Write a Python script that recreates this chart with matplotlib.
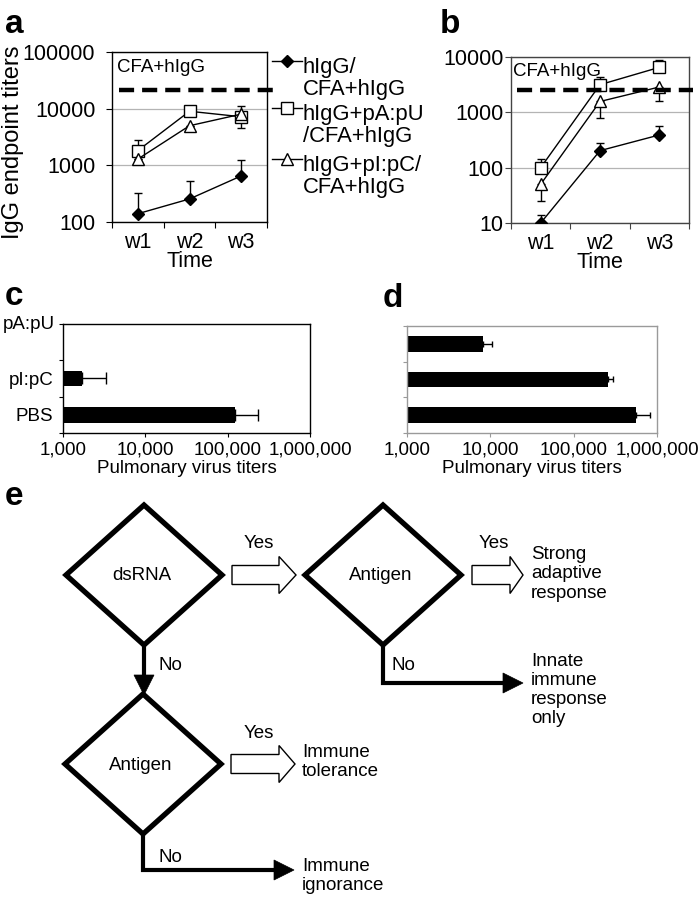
import numpy as np
import matplotlib
matplotlib.use('Agg')
import matplotlib.pyplot as plt
from matplotlib.patches import Polygon
from matplotlib.ticker import FuncFormatter, NullLocator

plt.rcParams['font.family'] = ['Liberation Sans', 'DejaVu Sans']

# ---- data ----
weeks = ['w1', 'w2', 'w3']
series_labels = ['hIgG/\nCFA+hIgG', 'hIgG+pA:pU\n/CFA+hIgG', 'hIgG+pI:pC/\nCFA+hIgG']

# panel a: IgG endpoint titers
a_hIgG = [140, 255, 650]
a_hIgG_lo = [0, 0, 0]
a_hIgG_hi = [190, 265, 590]
a_pApU = [1820, 9000, 7200]
a_pApU_lo = [0, 0, 2700]
a_pApU_hi = [940, 0, 0]
a_pIpC = [1290, 5000, 8000]
a_pIpC_lo = [0, 0, 0]
a_pIpC_hi = [0, 0, 3000]
a_cfa = 21000

# panel b
b_hIgG = [10, 203, 390]
b_hIgG_lo = [0, 0, 0]
b_hIgG_hi = [4, 80, 180]
b_pApU = [100, 3160, 6500]
b_pApU_lo = [0, 0, 0]
b_pApU_hi = [41, 1210, 2450]
b_pIpC = [50, 1570, 2870]
b_pIpC_lo = [25, 770, 1250]
b_pIpC_hi = [0, 0, 0]
b_cfa = 2500

# panels c, d: pulmonary virus titers (bottom to top)
groups = ['PBS', 'pI:pC', 'pA:pU']
c_titer = [123000, 1720, np.nan]
c_err = [111000, 1640, np.nan]
d_titer = [560000, 257000, 8100]
d_err = [257000, 36000, 2250]

W, H = 700, 900
fig = plt.figure(figsize=(7, 9), dpi=100)


def px_axes(x0, y0, x1, y1, **kw):
    return fig.add_axes([x0 / W, 1 - y1 / H, (x1 - x0) / W, (y1 - y0) / H], **kw)


# overlay in pixel coordinates for legend, letters and flowchart
ov = px_axes(0, 0, W, H, zorder=0)
ov.set_xlim(0, W)
ov.set_ylim(H, 0)
ov.axis('off')

styles = [dict(marker='D', ms=6.5, mfc='black'),
          dict(marker='s', ms=8, mfc='white'),
          dict(marker='^', ms=8.5, mfc='white')]


def line_panel(ax, series, cfa, ylim, cfa_span, spine_col, tick_pad):
    x = np.arange(1, len(weeks) + 1)
    for (vals, lo, hi), st in zip(series, styles):
        ax.errorbar(x, vals, yerr=[lo, hi], fmt='none', ecolor='black',
                    elinewidth=1, capsize=3, capthick=1, zorder=2)
        ax.plot(x, vals, color='black', lw=1, mec='black', mew=1, zorder=3, **st)
    ax.axhline(cfa, xmin=cfa_span[0], xmax=cfa_span[1], color='black', lw=3.2,
               ls=(0, (3.4, 1.8)), clip_on=False, zorder=4)
    ax.set_yscale('log')
    ax.set_ylim(*ylim)
    ticks = [10 ** k for k in range(int(np.log10(ylim[0])), int(np.log10(ylim[1])) + 1)]
    ax.set_yticks(ticks)
    ax.set_yticklabels([str(t) for t in ticks])
    ax.yaxis.set_minor_locator(NullLocator())
    ax.set_xlim(0.5, len(weeks) + 0.5)
    ax.set_xticks(x)
    ax.set_xticklabels(weeks)
    ax.set_xticks(np.arange(0.5, len(weeks) + 1), minor=True)
    ax.tick_params(axis='x', which='major', length=0, labelsize=15.5, pad=7)
    ax.tick_params(axis='x', which='minor', length=4, width=0.8, color=spine_col)
    ax.tick_params(axis='y', which='major', length=4, width=0.8, labelsize=15.5,
                   pad=tick_pad, color=spine_col)
    ax.grid(axis='y', which='major', color='#b4b4b4', lw=0.9)
    ax.set_axisbelow(True)
    for s in ax.spines.values():
        s.set_color(spine_col)
        s.set_linewidth(1)
    ax.set_xlabel('Time', fontsize=15.5, labelpad=-1)
    ax.text(0.03 if spine_col == 'black' else 0.012, 0.91, 'CFA+hIgG',
            transform=ax.transAxes, fontsize=13.5, va='center', ha='left')


ax_a = px_axes(112, 52, 267, 222, zorder=2)
line_panel(ax_a, [(a_hIgG, a_hIgG_lo, a_hIgG_hi), (a_pApU, a_pApU_lo, a_pApU_hi),
                  (a_pIpC, a_pIpC_lo, a_pIpC_hi)],
           a_cfa, (100, 100000), (0.045, 1.07), 'black', 8)
fig.text(13 / W, 1 - 142 / H, 'IgG endpoint titers', rotation=90, fontsize=17,
         ha='center', va='center')

ax_b = px_axes(511, 57, 689, 223, zorder=2)
line_panel(ax_b, [(b_hIgG, b_hIgG_lo, b_hIgG_hi), (b_pApU, b_pApU_lo, b_pApU_hi),
                  (b_pIpC, b_pIpC_lo, b_pIpC_hi)],
           b_cfa, (10, 10000), (0.034, 1.02), '#444444', 1.5)

# legend for a, drawn by hand so the marker sits on the first text line
for hy, lab, st in zip([61, 108, 159], series_labels, styles):
    ov.plot([272, 302], [hy, hy], color='black', lw=1)
    ov.plot([287], [hy], ls='none', mec='black', mew=1, **st)
    ov.text(303, hy - 4, lab, fontsize=15.8, va='top', ha='left', linespacing=1.05)


def bar_panel(ax, vals, errs, capsize, frame_col, show_labels):
    y = np.arange(len(groups))
    ax.set_xscale('log')
    ax.barh(y, vals, height=0.43, color='black', zorder=2)
    ax.errorbar(vals, y, xerr=[np.zeros(len(vals)), errs], fmt='none',
                ecolor='black', elinewidth=1, capsize=capsize, capthick=1, zorder=3)
    ax.set_xlim(1000, 1000000)
    ax.set_xticks([1000, 10000, 100000, 1000000])
    ax.xaxis.set_major_formatter(FuncFormatter(lambda v, p: f'{v:,.0f}'))
    ax.xaxis.set_minor_locator(NullLocator())
    ax.set_ylim(-0.5, len(groups) - 0.5)
    ax.set_yticks(y)
    ax.set_yticks(np.arange(-0.5, len(groups)), minor=True)
    if show_labels:
        # the empty top category carries its label up at the top edge
        ax.set_yticklabels(groups[:-1] + [''])
        ax.annotate(groups[-1], xy=(0, y[-1]), xycoords=('axes fraction', 'data'),
                    xytext=(-5.5, 12.5), textcoords='offset points',
                    ha='right', va='center', fontsize=13.5)
    else:
        ax.set_yticklabels([])
    ax.tick_params(axis='y', which='major', length=0, labelsize=13.5, pad=7)
    ax.tick_params(axis='y', which='minor', length=3, width=0.8, color=frame_col)
    ax.tick_params(axis='x', which='major', length=3, width=0.8, labelsize=13.5,
                   pad=3, color=frame_col)
    for s in ax.spines.values():
        s.set_color(frame_col)
        s.set_linewidth(1)
    ax.set_xlabel('Pulmonary virus titers', fontsize=13.5, labelpad=1)


ax_c = px_axes(63, 324, 310, 433, zorder=2)
bar_panel(ax_c, c_titer, c_err, 4, 'black', True)
ax_d = px_axes(407, 326, 657, 433, zorder=2)
bar_panel(ax_d, d_titer, d_err, 2.2, '#9a9a9a', False)

# panel letters
for lx, ly, letter in [(5, 33, 'a'), (440, 33, 'b'), (5, 305, 'c'), (383, 307, 'd'), (5, 505, 'e')]:
    fig.text(lx / W, 1 - ly / H, letter, fontsize=24, weight='bold', va='baseline', ha='left')

# ---- panel e: flowchart ----
dia_hw, dia_hh = 78, 70
diamonds = [((144, 575), 'dsRNA'), ((383, 575), 'Antigen'), ((143, 764), 'Antigen')]
for (cx, cy), lab in diamonds:
    ov.add_patch(Polygon([(cx - dia_hw, cy), (cx, cy - dia_hh), (cx + dia_hw, cy),
                          (cx, cy + dia_hh)], closed=True, fill=False,
                         ec='black', lw=3.8, joinstyle='miter'))
    ov.text(cx - 2, cy + 1, lab, fontsize=13.5, ha='center', va='center')

# hollow "Yes" arrows: x start, x tip, y, head length
open_arrows = [(232, 296, 575, 17), (472, 523, 575, 13), (231, 295, 764, 16)]
for x0, x1, yc, hl in open_arrows:
    sh, hh = 9.5, 18.5
    pts = [(x0, yc - sh), (x1 - hl, yc - sh), (x1 - hl, yc - hh), (x1, yc),
           (x1 - hl, yc + hh), (x1 - hl, yc + sh), (x0, yc + sh)]
    ov.add_patch(Polygon(pts, closed=True, fc='white', ec='black', lw=1, joinstyle='miter'))

# solid "No" arrows
solid_paths = [[(144, 644), (144, 695)],
               [(383, 644), (383, 683), (523, 683)],
               [(143, 832), (143, 870), (294, 870)]]
for path in solid_paths:
    (xa, ya), (xb, yb) = path[-2], path[-1]
    d = np.array([xb - xa, yb - ya], float)
    d /= np.hypot(*d)
    n = np.array([-d[1], d[0]])
    tip = np.array([xb, yb], float)
    base = tip - 20 * d
    xs = [p[0] for p in path[:-1]] + [base[0]]
    ys = [p[1] for p in path[:-1]] + [base[1]]
    ov.plot(xs, ys, color='black', lw=3, solid_joinstyle='miter', solid_capstyle='butt')
    ov.add_patch(Polygon([tip, base + 10 * n, base - 10 * n], closed=True,
                         fc='black', ec='black', lw=0.5))

for tx, ty, t in [(259, 544, 'Yes'), (494, 543, 'Yes'), (259, 733, 'Yes'),
                  (170, 666, 'No'), (403, 666, 'No'), (170, 858, 'No')]:
    ov.text(tx, ty, t, fontsize=13.5, ha='center', va='center')

outcomes = [(531, 574, 'Strong\nadaptive\nresponse'),
            (531, 690, 'Innate\nimmune\nresponse\nonly'),
            (302, 762, 'Immune\ntolerance'),
            (302, 876, 'Immune\nignorance')]
for tx, ty, t in outcomes:
    ov.text(tx, ty, t, fontsize=13.5, ha='left', va='center', linespacing=1.16)

fig.savefig('out.png', dpi=100)
